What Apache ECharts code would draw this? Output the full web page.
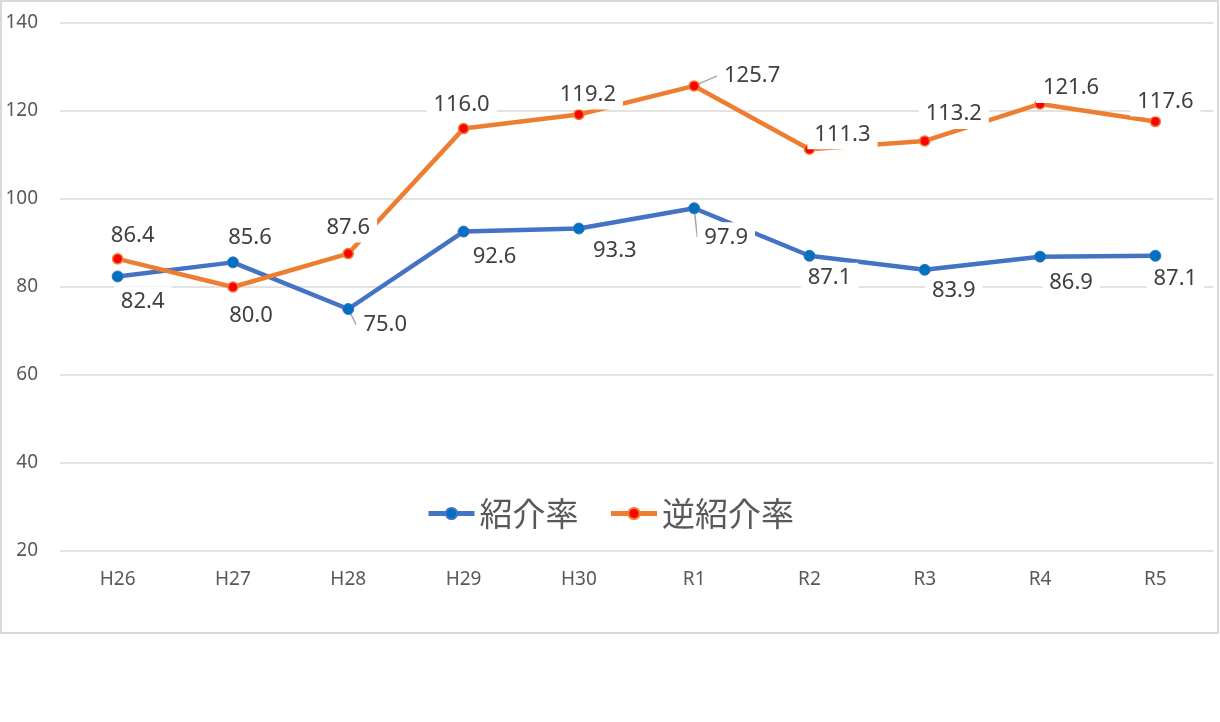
<!DOCTYPE html>
<html>
<head>
<meta charset="utf-8">
<script src="https://cdn.jsdelivr.net/npm/echarts@6/dist/echarts.min.js"></script>
<style>
html,body{margin:0;padding:0;background:#fff;}
#c{width:1220px;height:722px;}
</style>
</head>
<body>
<div id="c"></div>
<script>
const categories = ['H26','H27','H28','H29','H30','R1','R2','R3','R4','R5'];
const shokaiName = '紹介率';
const gyakuName = '逆紹介率';
const shokai = [82.4, 85.6, 75.0, 92.6, 93.3, 97.9, 87.1, 83.9, 86.9, 87.1];
const gyaku = [86.4, 80.0, 87.6, 116.0, 119.2, 125.7, 111.3, 113.2, 121.6, 117.6];
const yTicks = [20, 40, 60, 80, 100, 120, 140];

// label placement (pixel offsets from the point) and leader-line flags
const shokaiLabelOffsets = [[25,25],[17,-25],[37,16],[31,25],[36,22],[32,29],[20,22],[29,21],[31,26],[20,23]];
const gyakuLabelOffsets = [[15,-23],[18,29],[0,-26],[-2,-24],[9,-20],[58,-10],[33,-15],[29,-27],[31,-16],[10,-20]];
const shokaiLeaders = [false,false,true,false,false,true,false,false,false,false];
const gyakuLeaders = [false,false,false,false,false,true,false,false,false,false];

const FONT = '"Noto Sans", "Noto Sans CJK JP", sans-serif';

function buildData(vals, leaders) {
  return vals.map((v, i) => ({
    value: v,
    labelLine: { show: leaders[i], lineStyle: { color: '#a6a6a6', width: 1.5 }, length2: 0 }
  }));
}

const labelStyle = {
  show: true,
  position: 'inside',
  formatter: p => p.value.toFixed(1),
  color: '#404040',
  fontSize: 22,
  lineHeight: 22,
  fontFamily: FONT,
  backgroundColor: '#ffffff',
  padding: [4, 7, 4, 7]
};

const chart = echarts.init(document.getElementById('c'), null, {renderer: 'canvas'});
chart.setOption({
  animation: false,
  backgroundColor: '#ffffff',
  graphic: [{
    type: 'rect',
    shape: {x: 1, y: 1, width: 1217, height: 632},
    style: {fill: 'none', stroke: '#d9d9d9', lineWidth: 2},
    silent: true, z: -10
  }],
  grid: {left: 60, right: 7, top: 23, bottom: 171, containLabel: false},
  legend: {
    top: 492,
    left: 'center',
    itemWidth: 46,
    itemHeight: 14,
    itemGap: 30,
    lineStyle: {width: 5},
    textStyle: {fontSize: 33, color: '#595959', fontFamily: '"Noto Sans CJK JP", sans-serif'},
    data: [shokaiName, gyakuName]
  },
  xAxis: {
    type: 'category',
    data: categories,
    boundaryGap: true,
    axisLine: {show: false},
    axisTick: {show: false},
    axisLabel: {color: '#595959', fontSize: 19, margin: 19, fontFamily: FONT}
  },
  yAxis: {
    type: 'value',
    min: yTicks[0],
    max: yTicks[yTicks.length - 1],
    interval: 20,
    axisLine: {show: false},
    axisTick: {show: false},
    axisLabel: {color: '#595959', fontSize: 19, margin: 22, fontFamily: FONT},
    splitLine: {lineStyle: {color: '#d9d9d9', width: 1.5}}
  },
  series: [
    {
      name: shokaiName,
      type: 'line',
      data: buildData(shokai, shokaiLeaders),
      symbol: 'circle',
      symbolSize: 11,
      lineStyle: {color: '#4472C4', width: 4.5},
      itemStyle: {color: '#0070C0', borderColor: '#4472C4', borderWidth: 1},
      label: labelStyle,
      labelLayout: p => ({dx: shokaiLabelOffsets[p.dataIndex][0], dy: shokaiLabelOffsets[p.dataIndex][1]}),
      z: 2
    },
    {
      name: gyakuName,
      type: 'line',
      data: buildData(gyaku, gyakuLeaders),
      symbol: 'circle',
      symbolSize: 10,
      lineStyle: {color: '#ED7D31', width: 4.5},
      itemStyle: {color: '#FF0000', borderColor: '#ED7D31', borderWidth: 1.5},
      label: labelStyle,
      labelLayout: p => ({dx: gyakuLabelOffsets[p.dataIndex][0], dy: gyakuLabelOffsets[p.dataIndex][1]}),
      z: 3
    }
  ]
});
</script>
</body>
</html>
